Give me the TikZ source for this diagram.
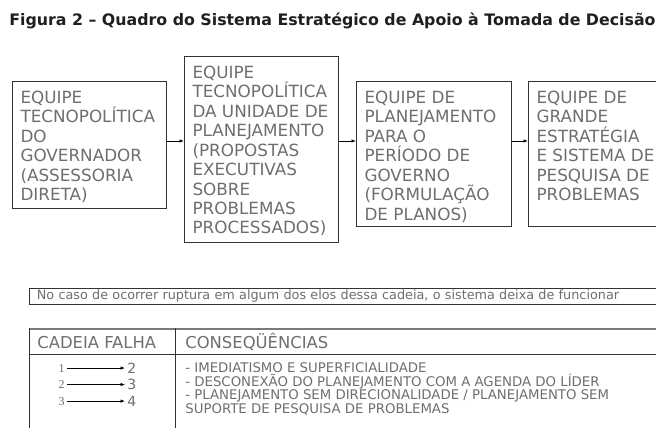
\documentclass[tikz,border=0pt]{standalone}
\usepackage{fontspec}
\setmainfont{DejaVu Sans}
\newfontfamily\serifdig{Liberation Serif}
\usetikzlibrary{arrows.meta}

\definecolor{cinza}{HTML}{6E6E6E}
\definecolor{borda}{HTML}{333333}
\definecolor{linhatopo}{HTML}{7A7A7A}

% texto de cada caixa, alinhado no topo
\newcommand{\caixa}[3]{\parbox[c][#2pt][t]{#1pt}{\raggedright\rule{0pt}{18.5pt}#3}}

\tikzset{every picture/.style={line width=0.75pt}}

\begin{document}
\begin{tikzpicture}[x=1pt,y=-1pt,>={Latex[length=4.5pt,width=3.5pt]},
    equipe/.style={draw=borda,line width=1pt,anchor=north west,inner xsep=8pt,inner ysep=3pt,
      text=cinza,font=\fontsize{16.8}{19.5}\selectfont},
    digesq/.style={anchor=base east,inner sep=2pt,text=cinza,font=\serifdig\fontsize{12}{14}\selectfont},
    digdir/.style={anchor=base west,inner sep=2pt,text=cinza,font=\fontsize{14}{16}\selectfont}]
\path[use as bounding box] (0,0) rectangle (656,428);
\clip (0,0) rectangle (656,428);

\node[anchor=base west,inner sep=0pt,text=black!88,font=\bfseries\fontsize{15.8}{18}\selectfont] (titulo) at (9,25.7)
  {Figura 2 – Quadro do Sistema Estratégico de Apoio à Tomada de Decisão};

% cadeia de equipes
\node[equipe] (e1) at (12,81) {\caixa{138}{121}{EQUIPE\\TECNOPOLÍTICA\\DO\\GOVERNADOR\\(ASSESSORIA\\DIRETA)}};
\node[equipe] (e2) at (184,56) {\caixa{138}{180}{EQUIPE\\TECNOPOLÍTICA\\DA UNIDADE DE\\PLANEJAMENTO\\(PROPOSTAS\\EXECUTIVAS\\SOBRE\\PROBLEMAS\\PROCESSADOS)}};
\node[equipe] (e3) at (356,81) {\caixa{139}{139}{EQUIPE DE\\PLANEJAMENTO\\PARA O\\PERÍODO DE\\GOVERNO\\(FORMULAÇÃO\\DE PLANOS)}};
\node[equipe] (e4) at (528,81) {\caixa{139}{139}{EQUIPE DE\\GRANDE\\ESTRATÉGIA\\E SISTEMA DE\\PESQUISA DE\\PROBLEMAS}};

\draw[->] (e1.east |- 0,141) -- (e2.west |- 0,141);
\draw[->] (e2.east |- 0,141) -- (e3.west |- 0,141);
\draw[->] (e3.east |- 0,141) -- (e4.west |- 0,141);

% aviso
\node[draw=borda,anchor=north west,text width=640pt,align=left,inner xsep=7.5pt,inner ysep=0pt,
  text height=12pt,text depth=4.5pt,text=cinza,font=\fontsize{12.8}{15}\selectfont] (aviso) at (29,287.5)
  {No caso de ocorrer ruptura em algum dos elos dessa cadeia, o sistema deixa de funcionar};

% tabela
\draw[linhatopo,line width=2pt] (29,328.7) -- (660,328.7);
\draw[borda] (29,354) -- (660,354);
\draw[borda] (29,328) -- (29,432);
\draw[borda] (175,328) -- (175,432);

\node[anchor=base west,inner sep=0pt,text=cinza,font=\fontsize{16.4}{19}\selectfont] (cadeia) at (37,348.3) {CADEIA FALHA};
\node[anchor=base west,inner sep=0pt,text=cinza,font=\fontsize{16.4}{19}\selectfont] (conseq) at (185,348.3) {CONSEQÜÊNCIAS};

\node[digesq] (a1) at (67,372) {1};
\node[digdir] (b1) at (125,373) {2};
\node[digesq] (a2) at (67,388.5) {2};
\node[digdir] (b2) at (125,389.5) {3};
\node[digesq] (a3) at (67,405) {3};
\node[digdir] (b3) at (125,406) {4};
\draw[->] (a1.east) -- (a1.east -| b1.west);
\draw[->] (a2.east) -- (a2.east -| b2.west);
\draw[->] (a3.east) -- (a3.east -| b3.west);

\node[anchor=north west,inner sep=0pt,align=left,text=cinza,font=\fontsize{13.3}{13.7}\selectfont] (lista) at (185,362.3)
  {- IMEDIATISMO E SUPERFICIALIDADE\\
   - DESCONEXÃO DO PLANEJAMENTO COM A AGENDA DO LÍDER\\
   - PLANEJAMENTO SEM DIRECIONALIDADE / PLANEJAMENTO SEM\\
   SUPORTE DE PESQUISA DE PROBLEMAS};
\end{tikzpicture}
\end{document}
